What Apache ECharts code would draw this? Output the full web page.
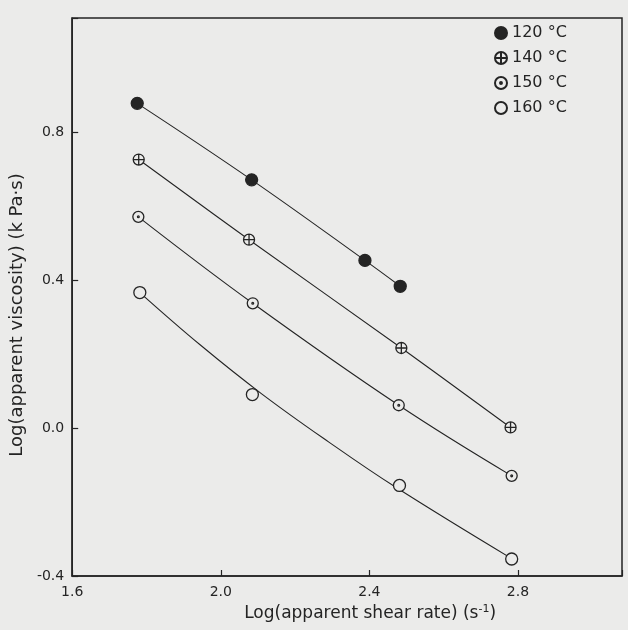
<!DOCTYPE html>
<html>
<head>
<meta charset="utf-8">
<script src="https://cdn.jsdelivr.net/npm/echarts@6/dist/echarts.min.js"></script>
<style>
html,body{margin:0;padding:0;background:#ebebea;}
#chart{width:628px;height:630px;}
</style>
</head>
<body>
<div id="chart"></div>
<script>
// ---- data ----
const seriesNames = ['120 °C', '140 °C', '150 °C', '160 °C'];
// measured points
const shear120 = [1.775, 2.083, 2.388, 2.483];
const visc120  = [0.879, 0.672, 0.454, 0.384];
const shear140 = [1.779, 2.076, 2.486, 2.780];
const visc140  = [0.727, 0.510, 0.217, 0.002];
const shear150 = [1.778, 2.086, 2.479, 2.783];
const visc150  = [0.572, 0.338, 0.062, -0.129];
const shear160 = [1.782, 2.085, 2.481, 2.783];
const visc160  = [0.367, 0.091, -0.155, -0.354];
// fitted curve for 160 °C as drawn in the reference (passes slightly above the points)
const fitShear160 = [1.782, 1.945, 2.110, 2.290, 2.468, 2.783];
const fitVisc160  = [0.367, 0.225, 0.093, -0.037, -0.158, -0.353];
const xTicks = [1.6, 2.0, 2.4, 2.8];
const yTicks = [-0.4, 0.0, 0.4, 0.8];

const BG = '#ebebea';
const INK = '#242424';
const FONT = 'DejaVu Sans';

const symFilled = 'circle';
const symPlus = 'path://M0,-10A10,10,0,1,1,0,10A10,10,0,1,1,0,-10ZM-10,0L10,0M0,-10L0,10';
const symDot = 'path://M0,-10A10,10,0,1,1,0,10A10,10,0,1,1,0,-10ZM0,-1.6A1.6,1.6,0,1,1,0,1.6A1.6,1.6,0,1,1,0,-1.6Z';
const symOpen = 'path://M0,-10A10,10,0,1,1,0,10A10,10,0,1,1,0,-10Z';

function pairs(xs, ys){ return xs.map((x,i)=>[x, ys[i]]); }
const sets = [
  {name: seriesNames[0], data: pairs(shear120, visc120), fit: pairs(shear120, visc120), symbol: symFilled, fill: INK, size: 12},
  {name: seriesNames[1], data: pairs(shear140, visc140), fit: pairs(shear140, visc140), symbol: symPlus, fill: BG, size: 11},
  {name: seriesNames[2], data: pairs(shear150, visc150), fit: pairs(shear150, visc150), symbol: symDot, fill: BG, size: 11},
  {name: seriesNames[3], data: pairs(shear160, visc160), fit: pairs(fitShear160, fitVisc160), symbol: symOpen, fill: BG, size: 12}
];

const series = [];
sets.forEach(s => {
  series.push({
    type: 'line', name: s.name + ' fit', data: s.fit, smooth: 0.4,
    showSymbol: false, symbol: 'none', silent: true, z: 2,
    lineStyle: {color: INK, width: 1.1}
  });
});
sets.forEach(s => {
  series.push({
    type: 'scatter', name: s.name, data: s.data, symbol: s.symbol, symbolSize: s.size, z: 5,
    itemStyle: {color: s.fill, borderColor: INK, borderWidth: 1.3, opacity: 1}
  });
});

function tickFmt(list){
  return v => list.some(t => Math.abs(t - v) < 1e-6) ? v.toFixed(1) : '';
}

const chart = echarts.init(document.getElementById('chart'), null, {renderer: 'canvas'});
chart.setOption({
  backgroundColor: BG,
  animation: false,
  textStyle: {fontFamily: FONT, color: INK},
  grid: {left: 72, right: 6, top: 18, bottom: 54, show: true, borderColor: INK, borderWidth: 1.5, backgroundColor: 'transparent'},
  legend: {
    data: seriesNames, orient: 'vertical', left: 489, top: 20,
    itemWidth: 12, itemHeight: 12, itemGap: 9,
    textStyle: {fontFamily: FONT, fontSize: 16, color: INK},
    selectedMode: false
  },
  xAxis: {
    type: 'value', min: 1.6, max: 3.08, interval: 0.4,
    name: 'Log(apparent shear rate) (s{sup|-1})',
    nameLocation: 'middle', nameGap: 26,
    nameTextStyle: {fontFamily: FONT, fontSize: 17, color: INK, padding: [0,0,0,46],
      rich: {sup: {fontSize: 11, fontFamily: FONT, color: INK, padding: [0,0,9,0]}}},
    axisLine: {show: true, onZero: false, lineStyle: {color: INK, width: 1.5}},
    axisTick: {show: true, inside: true, length: 6, lineStyle: {color: INK, width: 1.2}},
    axisLabel: {fontFamily: FONT, fontSize: 14, color: INK, margin: 9, formatter: tickFmt(xTicks)},
    splitLine: {show: false}
  },
  yAxis: {
    type: 'value', min: -0.4, max: 1.11, interval: 0.4,
    name: 'Log(apparent viscosity) (k Pa·s)',
    nameLocation: 'middle', nameGap: 20, nameRotate: 90,
    nameTextStyle: {fontFamily: FONT, fontSize: 18, color: INK, padding: [0,36,0,0]},
    axisLine: {show: true, onZero: false, lineStyle: {color: INK, width: 1.5}},
    axisTick: {show: true, inside: true, length: 6, lineStyle: {color: INK, width: 1.2}},
    axisLabel: {fontFamily: FONT, fontSize: 14, color: INK, margin: 8, formatter: tickFmt(yTicks)},
    splitLine: {show: false}
  },
  series: series
});
</script>
</body>
</html>
